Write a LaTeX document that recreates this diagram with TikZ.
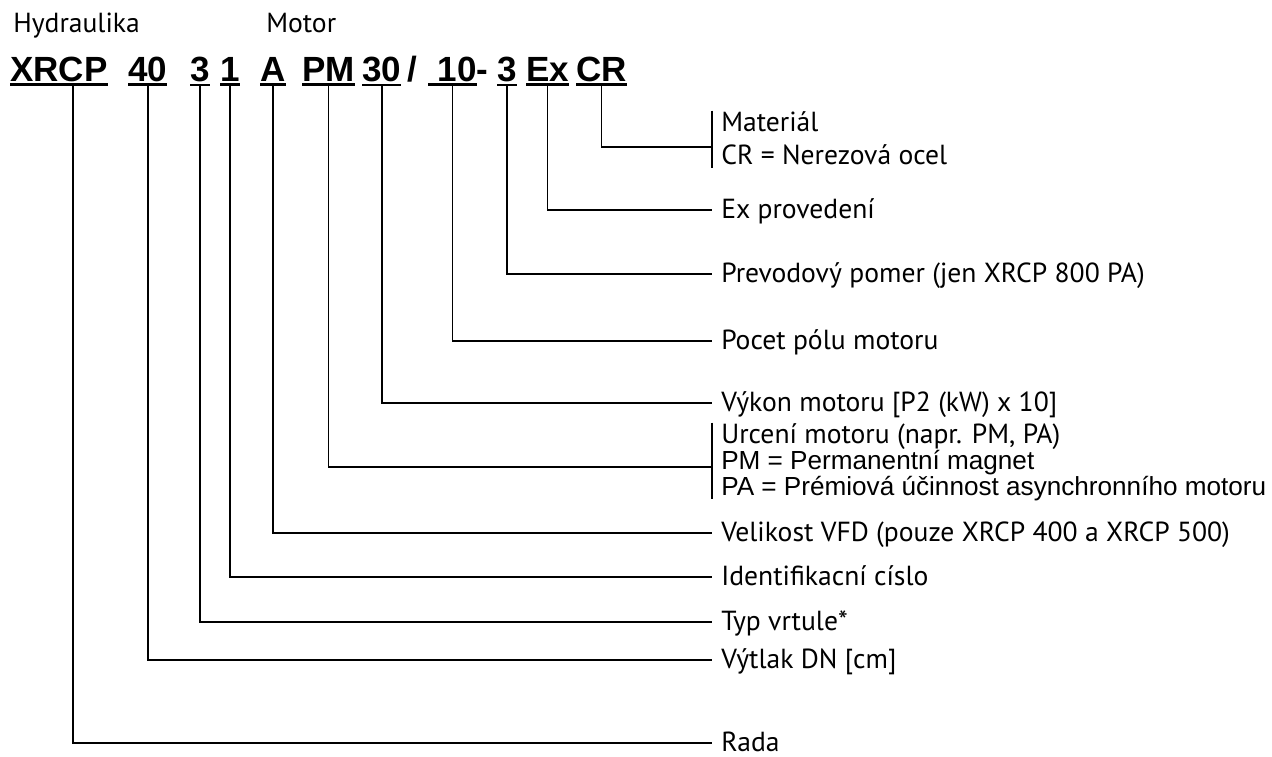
\documentclass[tikz,border=0pt]{standalone}
\usepackage{fontspec}
\setmainfont{PT Sans}
\newfontfamily\arialfont{Liberation Sans}
\usetikzlibrary{calc}

\tikzset{
  code/.style={font=\arialfont\bfseries\fontsize{26.25}{30}\selectfont, inner sep=0pt, outer ysep=2.6pt, anchor=base west},
  uline/.style={line width=2pt},
  conn/.style={line width=1.2pt},
  head/.style={font=\fontsize{20.7}{24}\selectfont, inner sep=0pt, anchor=base west},
  desc/.style={font=\fontsize{20.7}{24}\selectfont, inner xsep=6.75pt, inner ysep=0pt, text height=15pt, text depth=3pt, anchor=west},
  descarial/.style={desc, font=\arialfont\fontsize{19.6}{22}\selectfont},
}

\begin{document}
\begin{tikzpicture}[x=0.75pt, y=-0.75pt]

\pgfmathsetmacro{\codebase}{81}
\pgfmathsetmacro{\labelx}{712}

\useasboundingbox (0,0) rectangle (1272,757);

% Headings:
\node[head] (hHydr) at (13,32) {Hydraulika};
\node[head] (hMotor) at (266,32) {Motor};

% Code letters:
\node[code] (cXRCP) at (10,\codebase) {XRCP};
\node[code] (c40) at (128,\codebase) {40\hspace{0.38em}};
\node[code] (c3a) at (190,\codebase) {3};
\node[code] (c1) at (220,\codebase) {1};
\node[code] (cA) at (260,\codebase) {A};
\node[code] (cPM) at (302,\codebase) {PM};
\node[code] (c30) at (362,\codebase) {30};
\node[code] (cSlash) at (407,\codebase) {/};
\node[code] (c10) at (428,\codebase) {\ 10};
\node[code] (cDash) at (476,\codebase) {-};
\node[code] (c3b) at (497,\codebase) {3};
\node[code] (cEx) at (526,\codebase) {Ex};
\node[code] (cCR) at (576,\codebase) {CR};

% Underlines:
\foreach \n in {cXRCP,c40,c3a,c1,cA,cPM,c30,c10,c3b,cEx,cCR}
  \draw[uline] (\n.south west) -- (\n.south east);

% Labels:
\node[desc] (lMat1) at (\labelx,123) {Materiál};
\node[desc] (lMat2) at (\labelx,156) {CR = Nerezová ocel};
\node[desc] (lEx) at (\labelx,210) {Ex provedení};
\node[desc] (lPrev) at (\labelx,274) {Prevodový pomer (jen XRCP 800 PA)};
\node[desc] (lPocet) at (\labelx,341) {Pocet pólu motoru};
\node[desc] (lVykon) at (\labelx,403) {Výkon motoru [P2 (kW) x 10]};
\node[desc] (lUrc1) at (\labelx,435) {Urcení motoru (napr. PM, PA)};
\node[descarial] (lUrc2) at (\labelx,461) {PM = Permanentní magnet};
\node[descarial] (lUrc3) at (\labelx,487) {PA = Prémiová účinnost asynchronního motoru};
\node[desc] (lVFD) at (\labelx,533) {Velikost VFD (pouze XRCP 400 a XRCP 500)};
\node[desc] (lIdent) at (\labelx,577) {Identifikacní císlo};
\node[desc] (lTyp) at (\labelx,622) {Typ vrtule*};
\node[desc] (lVytlak) at (\labelx,660) {Výtlak DN [cm]};
\node[desc] (lRada) at (\labelx,743) {Rada};

% Brackets of the grouped labels:
\coordinate (jMat) at (\labelx,147);
\coordinate (jUrc) at (\labelx,467);
\draw[conn] (lMat1.north west) -- (lMat2.south west);
\draw[conn] (lUrc1.north west) -- (lUrc3.south west);

% Connector lines:
\draw[conn] (cCR.south) |- (jMat);
\draw[conn] (cEx.south) |- (lEx.west);
\draw[conn] (c3b.south) |- (lPrev.west);
\draw[conn] (c10.south) |- (lPocet.west);
\draw[conn] (c30.south) |- (lVykon.west);
\draw[conn] (cPM.south) |- (jUrc);
\draw[conn] (cA.south) |- (lVFD.west);
\draw[conn] (c1.south) |- (lIdent.west);
\draw[conn] (c3a.south) |- (lTyp.west);
\draw[conn] (c40.south) |- (lVytlak.west);
\draw[conn] ($(cXRCP.south)+(14,0)$) |- (lRada.west);

\end{tikzpicture}
\end{document}
